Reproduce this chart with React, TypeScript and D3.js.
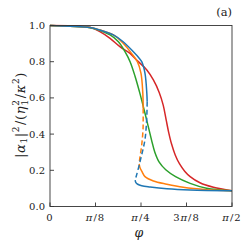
import React from "react";
import * as d3 from "d3";

// phi in units of pi, value = |alpha1|^2/(eta1^2/kappa^2)
const blueUpper: [number, number][] = [
  [0, 1.0], [0.055, 0.996], [0.11, 0.989], [0.137, 0.975], [0.174, 0.948], [0.201, 0.91],
  [0.229, 0.855], [0.244, 0.822], [0.252, 0.8], [0.261, 0.736], [0.266, 0.625], [0.267, 0.579],
];
const blueDashed: [number, number][] = [
  [0.267, 0.579], [0.266, 0.5], [0.264, 0.43], [0.261, 0.37], [0.256, 0.32], [0.25, 0.27],
  [0.244, 0.22], [0.238, 0.175], [0.234, 0.146],
];
const blueLower: [number, number][] = [
  [0.234, 0.146], [0.236, 0.132], [0.241, 0.123], [0.252, 0.115], [0.275, 0.108],
  [0.321, 0.098], [0.385, 0.091], [0.5, 0.087],
];
const orangeUpper: [number, number][] = [
  [0, 1.0], [0.055, 0.996], [0.11, 0.989], [0.137, 0.975], [0.174, 0.948], [0.201, 0.902],
  [0.224, 0.846], [0.24, 0.8], [0.25, 0.736], [0.255, 0.625], [0.256, 0.542],
];
const orangeDashed: [number, number][] = [
  [0.256, 0.542], [0.256, 0.48], [0.2555, 0.423], [0.253, 0.36], [0.25, 0.31], [0.247, 0.27], [0.245, 0.235],
];
const orangeLower: [number, number][] = [
  [0.245, 0.235], [0.247, 0.215], [0.252, 0.195], [0.261, 0.165], [0.284, 0.141], [0.321, 0.123],
  [0.366, 0.106], [0.43, 0.093], [0.5, 0.087],
];
const green: [number, number][] = [
  [0, 1.0], [0.055, 0.996], [0.11, 0.988], [0.165, 0.948], [0.188, 0.91], [0.206, 0.855],
  [0.22, 0.8], [0.234, 0.717], [0.247, 0.625], [0.261, 0.515], [0.27, 0.441], [0.279, 0.367],
  [0.288, 0.3], [0.3, 0.245], [0.318, 0.203], [0.345, 0.165], [0.385, 0.128], [0.43, 0.101], [0.5, 0.087],
];
const red: [number, number][] = [
  [0, 1.0], [0.082, 0.997], [0.11, 0.99], [0.137, 0.966], [0.165, 0.929], [0.192, 0.883],
  [0.22, 0.846], [0.238, 0.809], [0.266, 0.754], [0.284, 0.699], [0.3, 0.63], [0.311, 0.56],
  [0.319, 0.48], [0.326, 0.41], [0.334, 0.345], [0.344, 0.285], [0.356, 0.235], [0.37, 0.195],
  [0.385, 0.165], [0.412, 0.131], [0.449, 0.106], [0.5, 0.087],
];

const xTicks = [0, 0.125, 0.25, 0.375, 0.5];
const xTickLabels = [["0"], ["π", "/8"], ["π", "/4"], ["3", "π", "/8"], ["π", "/2"]];
const yTicks = [0, 0.2, 0.4, 0.6, 0.8, 1.0];

const C = { blue: "#1f77b4", orange: "#ff7f0e", green: "#2ca02c", red: "#d62728" };

export default function App() {
  const L = 50, R = 232, T = 25.5, B = 206.5;
  const x = d3.scaleLinear().domain([0, 0.5]).range([L, R]);
  const y = d3.scaleLinear().domain([0, 1]).range([B, T]);
  const line = d3
    .line<[number, number]>()
    .x((d) => x(d[0]))
    .y((d) => y(d[1]))
    .curve(d3.curveCatmullRom.alpha(0.5));

  const series: { d: [number, number][]; c: string; dash?: boolean }[] = [
    { d: red, c: C.red },
    { d: green, c: C.green },
    { d: orangeUpper, c: C.orange },
    { d: orangeDashed, c: C.orange, dash: true },
    { d: orangeLower, c: C.orange },
    { d: blueUpper, c: C.blue },
    { d: blueDashed, c: C.blue, dash: true },
    { d: blueLower, c: C.blue },
  ];
  const fs = { fontFamily: "'DejaVu Serif', serif" };

  return (
    <svg width={249} height={249} style={{ position: "absolute", left: 0, top: 0, background: "#fff" }}>
      <rect x={0} y={0} width={249} height={249} fill="#fff" />
      <defs>
        <clipPath id="plot">
          <rect x={L} y={T - 2} width={R - L} height={B - T + 2} />
        </clipPath>
      </defs>
      <g clipPath="url(#plot)">
        {series.map((s, i) => (
          <path
            key={i}
            d={line(s.d) || ""}
            fill="none"
            stroke={s.c}
            strokeWidth={1.5}
            strokeDasharray={s.dash ? "5,3" : undefined}
            strokeLinecap="butt"
          />
        ))}
      </g>
      <rect x={L} y={T} width={R - L} height={B - T} fill="none" stroke="#333" strokeWidth={0.9} />
      {xTicks.map((t, i) => (
        <g key={"x" + i}>
          <line x1={x(t)} x2={x(t)} y1={B} y2={B - 4} stroke="#333" strokeWidth={0.9} />
          <text x={x(t)} y={221} textAnchor="middle" fontSize={10} fill="#222" letterSpacing={1} style={fs}>
            {xTickLabels[i].map((p, j) => (
              <tspan key={j} fontStyle={p === "π" ? "italic" : "normal"}>
                {p}
              </tspan>
            ))}
          </text>
        </g>
      ))}
      {yTicks.map((t, i) => (
        <g key={"y" + i}>
          <line x1={L} x2={L + 4} y1={y(t)} y2={y(t)} stroke="#333" strokeWidth={0.9} />
          <text x={45} y={y(t) + 3.5} textAnchor="end" fontSize={10} fill="#222" style={fs}>
            {t.toFixed(1)}
          </text>
        </g>
      ))}
      <text x={139} y={237} textAnchor="middle" fontSize={12.5} fontStyle="italic" fill="#222" style={fs}>
        φ
      </text>
      <text transform="translate(25,115) rotate(-90)" textAnchor="middle" fontSize={13} fill="#222" style={fs} letterSpacing={0.6}>
        <tspan>|</tspan>
        <tspan fontStyle="italic">α</tspan>
        <tspan fontSize={9} dy={2}>1</tspan>
        <tspan dy={-2}>|</tspan>
        <tspan fontSize={9} dy={-6}>2</tspan>
        <tspan dx={1} dy={6}>/(</tspan>
        <tspan fontStyle="italic">η</tspan>
        <tspan fontSize={9} dy={-6}>2</tspan>
        <tspan fontSize={9} dx={-6} dy={9}>1</tspan>
        <tspan dx={1} dy={-3}>/</tspan>
        <tspan fontStyle="italic">κ</tspan>
        <tspan fontSize={9} dy={-6}>2</tspan>
        <tspan dy={6}>)</tspan>
      </text>
      <text x={232} y={16} textAnchor="end" fontSize={11.5} fill="#222" style={fs}>
        (a)
      </text>
    </svg>
  );
}
